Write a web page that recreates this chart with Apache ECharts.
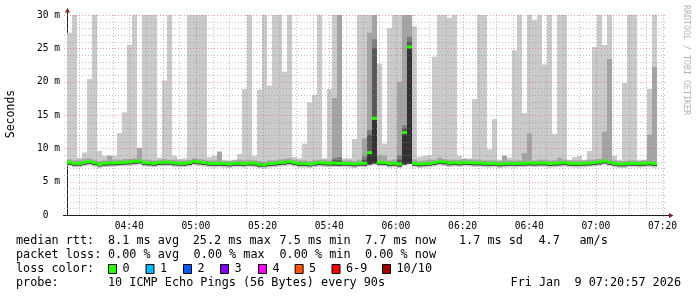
<!DOCTYPE html>
<html><head><meta charset="utf-8">
<script src="https://cdn.jsdelivr.net/npm/echarts@6/dist/echarts.min.js"></script>
<style>html,body{margin:0;padding:0;background:#fff;}#c{width:697px;height:297px;}</style>
</head><body><div id="c"></div>
<script>
// ---------- data ----------
const startTime = '04:21:20';      // left edge of plot
const windowMinutes = 180;
const stepSeconds = 90;            // one smoke column per 90 s probe
const xMajorLabels = ['04:40','05:00','05:20','05:40','06:00','06:20','06:40','07:00','07:20'];
const xMinorTicks = ['04:25','04:30','04:35','04:45','04:50','04:55','05:05','05:10','05:15','05:25','05:30','05:35',
  '05:45','05:50','05:55','06:05','06:10','06:15','06:25','06:30','06:35','06:45','06:50','06:55','07:05','07:10','07:15'];
const yMajorTicks = [5,10,15,20,25,30];
const yMinorTicks = [1,2,3,4,6,7,8,9,11,12,13,14,16,17,18,19,21,22,23,24,26,27,28,29];

// median rtt (ms) per probe
const median = [
 7.9,7.75,7.75,7.9,8.05,7.85,7.6,7.75,7.8,7.8,
 7.85,7.9,7.95,8.0,8.1,7.85,7.8,7.75,7.85,7.9,
 7.9,7.8,7.75,7.75,7.85,8.05,7.95,7.85,7.75,7.7,
 7.75,7.7,7.65,7.75,7.75,7.7,7.8,7.75,7.6,7.5,
 7.7,7.75,7.85,7.9,8.0,7.85,7.7,7.7,7.65,7.75,
 7.85,7.8,7.75,7.8,7.75,7.75,7.7,7.65,7.75,7.75,
 9.35,14.5,7.9,7.85,7.7,7.75,7.65,12.35,25.2,7.75,
 7.65,7.7,7.75,7.85,8.0,7.95,7.8,7.85,7.8,7.9,
 7.85,7.8,7.8,7.75,7.7,7.75,7.65,7.7,7.75,7.7,
 7.75,7.75,7.8,7.75,7.8,7.8,7.7,7.75,7.8,7.85,
 7.75,7.7,7.7,7.75,7.8,7.85,7.95,8.1,7.9,7.75,
 7.65,7.65,7.75,7.75,7.7,7.75,7.8,7.7];
// slowest ping (ms); 31 = above the 30 ms top of the graph
const pMax = [
 27.35,31,8.6,9.4,20.4,31,9.6,8.9,8.9,8.9,
 12.3,15.4,25.5,31,10.1,31,31,31,8.6,20.2,
 31,8.9,8.4,8.5,31,31,31,31,8.7,8.9,
 9.5,8.3,8.2,8.3,9.15,18.9,31,8.9,18.8,31,
 19.4,31,31,21.5,31,8.7,8.5,10.7,16.9,18.0,
 31,8.5,18.9,31,31,8.5,8.5,11.4,31,31,
 31,31,22.7,10.7,28.0,31,31,31,31,28.3,
 8.75,8.9,9.0,23.75,31,31,29.6,31,8.9,8.5,
 8.5,17.4,31,31,9.85,14.4,8.3,8.9,8.6,24.7,
 31,15.3,31,29.3,31,22.6,31,12.15,31,31,
 8.3,8.7,8.9,8.3,9.6,25.2,31,25.5,31,8.9,
 8.3,19.8,31,31,8.3,8.3,18.9,31];
// second slowest ping (ms)
const p9 = [
 8.35,8.2,8.2,8.4,8.5,8.3,8.1,8.2,8.9,8.3,
 8.3,8.4,8.4,8.5,10.0,8.3,8.3,8.2,8.3,8.4,
 8.3,8.3,8.2,8.2,8.3,8.5,8.4,8.3,8.2,8.2,
 9.5,8.1,8.1,8.2,8.3,8.2,8.3,8.2,8.1,8.0,
 8.2,8.2,8.3,8.4,8.5,8.3,8.2,8.2,8.1,8.2,
 8.3,8.3,8.2,17.55,31,8.2,8.2,8.1,8.3,11.5,
 27.35,31,9.0,8.9,8.2,8.3,20.0,31,31,8.3,
 8.1,8.2,8.3,8.3,8.6,8.4,8.3,8.3,8.3,8.4,
 8.3,8.3,8.3,8.2,8.2,8.2,8.1,8.9,8.2,8.2,
 8.2,9.3,12.25,8.2,8.3,8.3,8.2,8.2,8.6,8.3,
 8.2,8.2,8.2,8.2,8.3,8.3,8.4,12.5,23.4,8.2,
 8.1,8.1,8.2,8.2,8.1,8.2,12.0,22.2];
// inner low ping (ms)
const pLow = [
 7.55,7.4,7.4,7.55,7.7,7.5,7.3,7.4,7.45,7.45,
 7.5,7.55,7.6,7.65,7.75,7.5,7.45,7.4,7.5,7.55,
 7.55,7.45,7.4,7.4,7.5,7.7,7.6,7.5,7.4,7.35,
 7.4,7.35,7.3,7.4,7.4,7.35,7.45,7.4,7.25,7.2,
 7.35,7.4,7.5,7.55,7.65,7.5,7.35,7.35,7.3,7.4,
 7.5,7.45,7.4,7.45,7.4,7.4,7.35,7.3,7.4,7.4,
 7.6,7.75,7.55,7.5,7.35,7.4,7.3,7.6,7.7,7.4,
 7.3,7.35,7.4,7.5,7.65,7.6,7.45,7.5,7.45,7.55,
 7.5,7.45,7.45,7.4,7.35,7.4,7.3,7.35,7.4,7.35,
 7.4,7.4,7.45,7.4,7.45,7.45,7.35,7.4,7.45,7.5,
 7.4,7.35,7.35,7.4,7.45,7.5,7.6,7.75,7.55,7.4,
 7.3,7.3,7.4,7.4,7.35,7.4,7.45,7.35];
// fastest ping (ms)
const pMin = [
 7.3,7.15,7.2,7.3,7.4,7.25,7.05,7.2,7.2,7.25,
 7.3,7.3,7.35,7.4,7.5,7.25,7.2,7.15,7.3,7.3,
 7.3,7.2,7.15,7.2,7.25,7.45,7.35,7.25,7.15,7.1,
 7.15,7.1,7.05,7.15,7.15,7.1,7.2,7.15,7.0,6.95,
 7.1,7.15,7.25,7.3,7.4,7.25,7.1,7.1,7.05,7.15,
 7.25,7.2,7.15,7.2,7.15,7.15,7.1,7.05,7.15,7.15,
 7.35,7.5,7.3,7.25,7.1,7.15,7.05,7.35,7.6,7.15,
 7.05,7.1,7.15,7.25,7.4,7.35,7.2,7.25,7.2,7.3,
 7.25,7.2,7.2,7.15,7.1,7.15,7.05,7.1,7.15,7.1,
 7.15,7.15,7.2,7.15,7.2,7.2,7.1,7.15,7.2,7.25,
 7.15,7.1,7.1,7.15,7.2,7.25,7.35,7.5,7.3,7.15,
 7.05,7.05,7.15,7.15,7.1,7.15,7.2,7.1];
// probes with wider inner spread: [probe index, 3rd slowest, 4th slowest]
const innerSpread = [[53,8.5,8.2],[54,8.7,8.2],[59,8.8,8.3],[60,12.75,12.0],[61,26.35,25.0],
  [66,9.0,8.3],[67,13.5,13.0],[68,26.75,26.0]];

const medianStats = ['8.1 ms avg','25.2 ms max','7.5 ms min','7.7 ms now','1.7 ms sd','4.7','am/s'];
const lossStats = ['0.00 % avg','0.00 % max','0.00 % min','0.00 % now'];
const lossLabels = ['0','1','2','3','4','5','6-9','10/10'];
const lossColors = ['#26ff00','#00b8ff','#0059ff','#7e00ff','#ff00ff','#ff5500','#ff0000','#a10000'];
const probeText = '10 ICMP Echo Pings (56 Bytes) every 90s';
const dateText = 'Fri Jan  9 07:20:57 2026';

// ---------- build ----------
function toMin(s){const p=s.split(':').map(Number);return p[0]*60+p[1]+(p[2]||0)/60;}
function fmt(v){const m=Math.round(v);const h=Math.floor(m/60),mm=m%60;return String(h).padStart(2,'0')+':'+String(mm).padStart(2,'0');}
const xMin = toMin(startTime), xMax = xMin + windowMinutes;
const step = stepSeconds/60;
const p8 = median.map(()=>null), p7 = median.map(()=>null);
innerSpread.forEach(([i,a,b])=>{p8[i]=a;p7[i]=b;});

function bandData(lo, hi){
  const out=[];
  for(let i=0;i<median.length;i++){
    if(hi[i]==null) continue;
    out.push([xMin+i*step, xMin+(i+1)*step, lo[i], hi[i]]);
  }
  return out;
}
function renderRect(params, api){
  const a=api.coord([api.value(0),api.value(3)]);
  const b=api.coord([api.value(1),api.value(2)]);
  const cs=params.coordSys;
  const r=echarts.graphic.clipRectByRect({x:a[0],y:a[1],width:b[0]-a[0],height:b[1]-a[1]},
    {x:cs.x,y:cs.y,width:cs.width,height:cs.height});
  return r && {type:'rect',shape:r,style:{fill:api.visual('color')}};
}
function renderMedian(params, api){
  const a=api.coord([api.value(0),api.value(2)]);
  const b=api.coord([api.value(1),api.value(2)]);
  return {type:'rect',shape:{x:a[0],y:a[1]-1.5,width:b[0]-a[0],height:3},style:{fill:api.visual('color')}};
}
function vLine(ext){return function(params, api){
  const cs=params.coordSys;const x=Math.round(api.coord([api.value(0),0])[0])+0.5;
  return {type:'line',shape:{x1:x,y1:cs.y,x2:x,y2:cs.y+cs.height+ext},style:{stroke:api.visual('color'),lineWidth:1,lineDash:[1,2]}};};}
function hLine(params, api){
  const cs=params.coordSys;const y=Math.round(api.coord([xMin,api.value(1)])[1])+0.5;
  return {type:'line',shape:{x1:cs.x-3,y1:y,x2:cs.x+cs.width,y2:y},style:{stroke:api.visual('color'),lineWidth:1,lineDash:[1,2]}};}

const bands = [
  {lo:pMin, hi:pMax, color:'#cacaca'},
  {lo:pLow, hi:p9, color:'#a4a4a4'},
  {lo:pLow, hi:p8, color:'#7e7e7e'},
  {lo:pLow, hi:p7, color:'#585858'},
  {lo:pLow, hi:median, color:'#323232'}
];
const series = bands.map((b,k)=>({type:'custom',renderItem:renderRect,data:bandData(b.lo,b.hi),
  encode:{x:[0,1],y:[2,3]},itemStyle:{color:b.color},z:2+k*0.01,silent:true,animation:false}));
const GRID='rgba(143,143,143,0.55)', MGRID='rgba(222,79,79,0.5)';
series.push({type:'custom',renderItem:vLine(0),data:xMinorTicks.map(s=>[toMin(s),0]),itemStyle:{color:GRID},z:3,silent:true,animation:false});
series.push({type:'custom',renderItem:vLine(3),data:xMajorLabels.map(s=>[toMin(s),0]),itemStyle:{color:MGRID},z:3,silent:true,animation:false});
series.push({type:'custom',renderItem:hLine,data:yMinorTicks.map(v=>[xMin,v]),itemStyle:{color:GRID},z:3,silent:true,animation:false});
series.push({type:'custom',renderItem:hLine,data:yMajorTicks.map(v=>[xMin,v]),itemStyle:{color:MGRID},z:3,silent:true,animation:false});
series.push({type:'custom',renderItem:renderMedian,data:median.map((m,i)=>[xMin+i*step,xMin+(i+1)*step,m]),
  encode:{x:[0,1],y:2},itemStyle:{color:lossColors[0]},z:4,silent:true,animation:false});

const MONO='"DejaVu Sans Mono", monospace';
const LF=11.8, rows=[241,255,269,283];
const graphic=[];
function txt(x,y,s,opt){graphic.push({type:'text',x:x,y:y,silent:true,
  style:Object.assign({text:s,font:LF+'px '+MONO,fill:'#000',textVerticalAlign:'middle'},opt||{})});}
// axes extensions + arrows
graphic.push({type:'line',shape:{x1:67.5,y1:215,x2:67.5,y2:11},style:{stroke:'#1f1f1f',lineWidth:1},silent:true});
graphic.push({type:'line',shape:{x1:63,y1:215.5,x2:670,y2:215.5},style:{stroke:'#1f1f1f',lineWidth:1},silent:true});
graphic.push({type:'polygon',shape:{points:[[65,12.5],[70,12.5],[67.5,8]]},style:{fill:'#801f1f'},silent:true});
graphic.push({type:'polygon',shape:{points:[[669,213],[669,218],[673.5,215.5]]},style:{fill:'#801f1f'},silent:true});
// y axis title + watermark
graphic.push({type:'text',x:11,y:114,rotation:Math.PI/2,silent:true,
  style:{text:'Seconds',font:'11.5px '+MONO,fill:'#000',textAlign:'center',textVerticalAlign:'middle'}});
graphic.push({type:'text',x:686,y:5,rotation:-Math.PI/2,silent:true,
  style:{text:'RRDTOOL / TOBI OETIKER',font:'8.3px '+MONO,fill:'#b4b4b4',textAlign:'left',textVerticalAlign:'middle'}});
// legend rows
txt(16,rows[0],'median rtt:');
[108,192.7,279.5,365,459,538.5,579.4].forEach((x,i)=>txt(x,rows[0],medianStats[i]));
txt(16,rows[1],'packet loss:');
[108,193.6,279.5,365].forEach((x,i)=>txt(x,rows[1],lossStats[i]));
txt(16,rows[2],'loss color:');
[108,145.5,183,220,258,294.6,331.5,382].forEach((x,i)=>{
  graphic.push({type:'rect',shape:{x:x+0.5,y:rows[2]-4.5,width:8,height:9},style:{fill:lossColors[i],stroke:'#000',lineWidth:1},silent:true});
  txt(x+14.5,rows[2],lossLabels[i]);
});
txt(16,rows[3],'probe:');
txt(108,rows[3],probeText);
txt(681,rows[3],dateText,{textAlign:'right'});

const chart=echarts.init(document.getElementById('c'),null,{renderer:'canvas'});
chart.setOption({
  animation:false,
  backgroundColor:'#ffffff',
  grid:{left:67,top:15,width:600,height:200,containLabel:false},
  xAxis:{type:'value',min:xMin,max:xMax,
    axisLine:{show:false},splitLine:{show:false},
    axisTick:{show:false},
    axisLabel:{customValues:xMajorLabels.map(toMin),formatter:v=>fmt(v),fontFamily:'DejaVu Sans Mono',fontSize:9.6,color:'#000',margin:6}},
  yAxis:{type:'value',min:0,max:30,interval:5,
    axisLine:{show:false},splitLine:{show:false},axisTick:{show:false},
    axisLabel:{formatter:v=>v===0?'0  ':v+' m',fontFamily:'DejaVu Sans Mono',fontSize:9.6,color:'#000',margin:7}},
  series:series,
  graphic:graphic
});
</script></body></html>
